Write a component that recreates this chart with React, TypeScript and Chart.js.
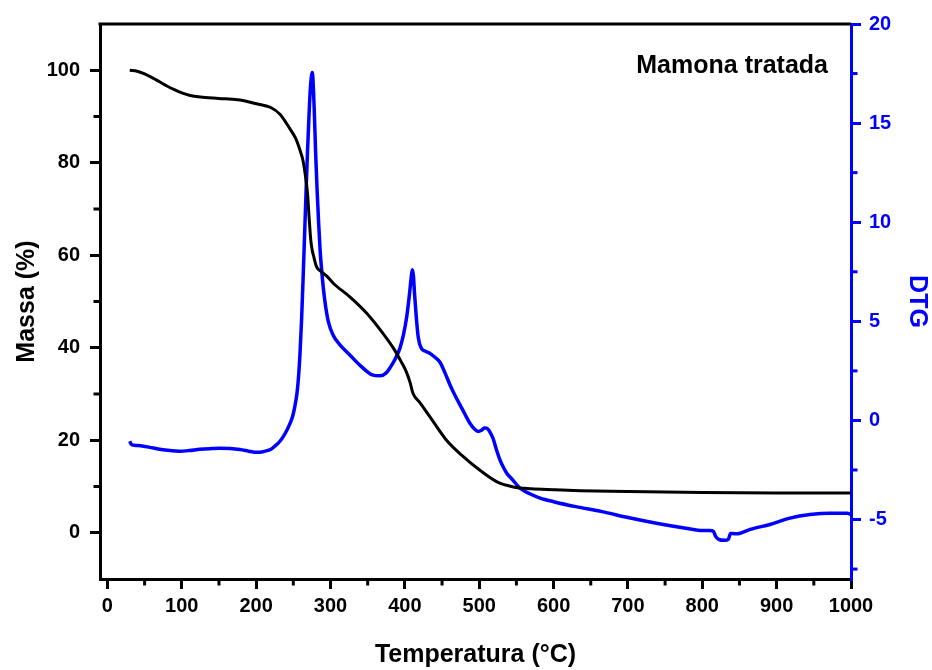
import { useEffect, useRef } from 'react';
import { Chart, registerables } from 'chart.js';

Chart.register(...registerables);

// ---- data ----
const massTemps = [30, 40, 50, 60, 70, 80, 90, 100, 110, 125, 150, 175, 192, 205, 219, 232, 246, 253, 259, 263, 266, 269, 271.5, 273.5, 275.5, 277, 281, 288, 295, 304, 326, 349, 371, 385, 395, 402, 407, 411, 420, 434, 456, 479, 501, 524, 546, 570, 600, 636, 700, 800, 900, 1000];
const massValues = [100, 99.8, 99.2, 98.4, 97.5, 96.6, 95.8, 95.1, 94.6, 94.2, 93.9, 93.6, 93.1, 92.6, 92.0, 90.5, 87.2, 85.3, 82.7, 80.5, 77.5, 73.5, 67.5, 63.2, 61, 60, 57.6, 56.4, 55.5, 53.9, 51, 47.4, 43, 39.8, 37, 34.8, 32.5, 30.1, 28.2, 25, 20, 16.4, 13.5, 11, 9.9, 9.5, 9.3, 9.1, 8.9, 8.7, 8.6, 8.6];

const dtgTemps = [30, 32, 36, 45, 57, 70, 84, 97, 110, 124, 140, 151, 165, 178, 190, 198, 205, 212, 220, 225, 232, 239, 245, 249, 252, 255, 257, 259, 261, 263, 265, 267, 269, 271, 273, 275.5, 278, 280, 282, 284, 286, 289, 292.5, 297, 303.6, 313, 326, 342, 356, 366.5, 375, 380, 387, 393.4, 398, 402.4, 406, 408.5, 410, 411.5, 413, 415.4, 418, 422, 427, 433, 440, 447, 454, 460.6, 467, 474, 481, 487.5, 494, 498.7, 503, 507, 510, 513, 516, 519, 523, 528, 533, 537, 545, 555, 568, 582, 600, 630, 665, 700, 740, 780, 800, 810, 815, 818, 822, 830, 835, 838, 845, 851, 864.5, 891, 918, 945, 972, 995, 1000];
const dtgValues = [-1.05, -1.2, -1.25, -1.28, -1.36, -1.45, -1.52, -1.55, -1.52, -1.46, -1.42, -1.4, -1.42, -1.47, -1.55, -1.6, -1.6, -1.55, -1.45, -1.3, -1.05, -0.66, -0.2, 0.2, 0.7, 1.4, 2.2, 3.4, 5.0, 7.0, 9.2, 11.4, 13.5, 15.3, 16.8, 17.55, 15.8, 13.5, 11.6, 10.0, 8.6, 7.2, 6.0, 5.0, 4.3, 3.8, 3.3, 2.7, 2.3, 2.25, 2.4, 2.65, 3.1, 3.65, 4.3, 5.2, 6.3, 7.2, 7.6, 7.3, 6.4, 5.2, 4.2, 3.65, 3.5, 3.4, 3.2, 2.95, 2.4, 1.8, 1.3, 0.8, 0.3, -0.14, -0.45, -0.56, -0.5, -0.38, -0.39, -0.5, -0.7, -0.95, -1.45, -2.0, -2.4, -2.66, -3.0, -3.42, -3.7, -3.92, -4.1, -4.35, -4.6, -4.9, -5.2, -5.45, -5.55, -5.55, -5.6, -5.85, -6.0, -6.05, -6.0, -5.7, -5.72, -5.69, -5.5, -5.25, -4.93, -4.75, -4.68, -4.68, -4.75];

const xTicks = [0, 100, 200, 300, 400, 500, 600, 700, 800, 900, 1000];
const xMinorTicks = [50, 150, 250, 350, 450, 550, 650, 750, 850, 950];
const massTicks = [0, 20, 40, 60, 80, 100];
const massMinorTicks = [10, 30, 50, 70, 90];
const dtgTicks = [-5, 0, 5, 10, 15, 20];
const dtgMinorTicks = [-7.5, -2.5, 2.5, 7.5, 12.5, 17.5];

const sampleName = 'Mamona tratada';
const xTitle = 'Temperatura (°C)';
const massTitle = 'Massa (%)';
const dtgTitle = 'DTG';

const BLUE = '#0000FF';
const FONT = 'Arial, "Liberation Sans", sans-serif';

const extras = {
  id: 'extras',
  afterDraw(chart: any) {
    const { ctx, chartArea, scales } = chart;
    ctx.save();
    // top frame line
    ctx.strokeStyle = '#000';
    ctx.lineWidth = 3;
    ctx.beginPath();
    ctx.moveTo(chartArea.left - 1.5, chartArea.top);
    ctx.lineTo(chartArea.right, chartArea.top);
    ctx.stroke();
    // minor ticks
    const len = 5;
    ctx.lineWidth = 3;
    ctx.strokeStyle = '#000';
    xMinorTicks.forEach((v) => {
      const px = scales.x.getPixelForValue(v);
      ctx.beginPath();
      ctx.moveTo(px, chartArea.bottom);
      ctx.lineTo(px, chartArea.bottom + len + 1.5);
      ctx.stroke();
    });
    massMinorTicks.forEach((v) => {
      const py = scales.y.getPixelForValue(v);
      ctx.beginPath();
      ctx.moveTo(chartArea.left, py);
      ctx.lineTo(chartArea.left - len - 1.5, py);
      ctx.stroke();
    });
    ctx.strokeStyle = BLUE;
    dtgMinorTicks.forEach((v) => {
      const py = scales.y1.getPixelForValue(v);
      ctx.beginPath();
      ctx.moveTo(chartArea.right, py);
      ctx.lineTo(chartArea.right + len + 1.5, py);
      ctx.stroke();
    });
    // sample label
    ctx.fillStyle = '#000';
    ctx.font = `bold 25px ${FONT}`;
    ctx.textAlign = 'right';
    ctx.textBaseline = 'alphabetic';
    ctx.fillText(sampleName, chartArea.right - 23, chartArea.top + 49);
    ctx.restore();
  },
};

const plain = (v: any) => String(v);

export default function App() {
  const ref = useRef<HTMLCanvasElement | null>(null);
  useEffect(() => {
    document.body.style.margin = '0';
    const canvas = ref.current;
    if (!canvas) return;
    const chart = new Chart(canvas, {
      type: 'line',
      data: {
        datasets: [
          {
            label: massTitle,
            data: massTemps.map((t, i) => ({ x: t, y: massValues[i] })),
            borderColor: '#000',
            borderWidth: 3,
            pointRadius: 0,
            cubicInterpolationMode: 'monotone',
            yAxisID: 'y',
          },
          {
            label: dtgTitle,
            data: dtgTemps.map((t, i) => ({ x: t, y: dtgValues[i] })),
            borderColor: BLUE,
            borderWidth: 3.5,
            pointRadius: 0,
            cubicInterpolationMode: 'monotone',
            yAxisID: 'y1',
          },
        ],
      },
      options: {
        responsive: false,
        animation: false,
        devicePixelRatio: 1,
        layout: { padding: { top: 24, left: 0, right: 0, bottom: 0 } },
        plugins: { legend: { display: false }, tooltip: { enabled: false } },
        scales: {
          x: {
            type: 'linear',
            position: 'bottom',
            min: -10,
            max: 1000,
            afterBuildTicks: (s: any) => { s.ticks = xTicks.map((v) => ({ value: v })); },
            afterFit: (s: any) => { s.height = 91; },
            grid: { display: true, drawOnChartArea: false, drawTicks: true, tickLength: 10, tickWidth: 3, lineWidth: 3, tickColor: '#000' },
            border: { display: true, color: '#000', width: 3 },
            ticks: { color: '#000', font: { family: FONT, size: 20, weight: 'bold' }, padding: 5, maxRotation: 0, autoSkip: false, callback: plain },
            title: { display: true, text: xTitle, color: '#000', font: { family: FONT, size: 25, weight: 'bold' }, padding: { top: 0, bottom: 0 } },
          },
          y: {
            type: 'linear',
            position: 'left',
            min: -10,
            max: 110,
            afterBuildTicks: (s: any) => { s.ticks = massTicks.map((v) => ({ value: v })); },
            afterFit: (s: any) => { s.width = 100; },
            grid: { display: true, drawOnChartArea: false, drawTicks: true, tickLength: 10, tickWidth: 3, lineWidth: 3, tickColor: '#000' },
            border: { display: true, color: '#000', width: 3 },
            ticks: { color: '#000', font: { family: FONT, size: 20, weight: 'bold' }, padding: 10, autoSkip: false, callback: plain },
            title: { display: true, text: massTitle, color: '#000', font: { family: FONT, size: 25, weight: 'bold' }, padding: { top: 12, bottom: 0 } },
          },
          y1: {
            type: 'linear',
            position: 'right',
            min: -8,
            max: 20,
            afterBuildTicks: (s: any) => { s.ticks = dtgTicks.map((v) => ({ value: v })); },
            afterFit: (s: any) => { s.width = 81; },
            grid: { display: true, drawOnChartArea: false, drawTicks: true, tickLength: 10, tickWidth: 3, lineWidth: 3, tickColor: BLUE },
            border: { display: true, color: BLUE, width: 3 },
            ticks: { color: BLUE, font: { family: FONT, size: 20, weight: 'bold' }, padding: 8, autoSkip: false, callback: plain },
            title: { display: true, text: dtgTitle, color: BLUE, font: { family: FONT, size: 25, weight: 'bold' }, padding: { top: 0, bottom: 0 } },
          },
        },
      },
      plugins: [extras],
    } as any);
    return () => chart.destroy();
  }, []);
  return <canvas ref={ref} width={932} height={670} style={{ display: 'block' }} />;
}
